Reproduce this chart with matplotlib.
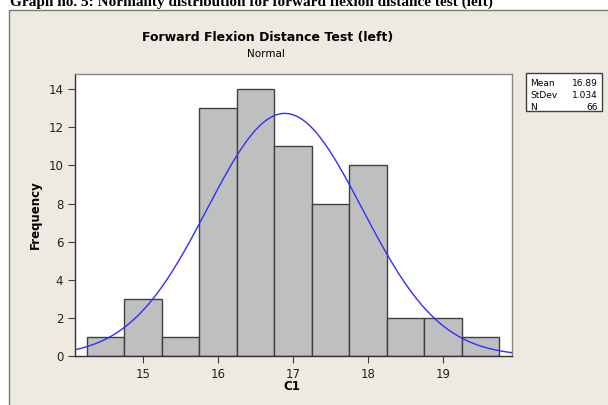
import numpy as np
import matplotlib
matplotlib.use("Agg")
import matplotlib.pyplot as plt
from matplotlib.patches import Rectangle

# histogram data (bin centres, width 0.5)
bin_centers = [14.5, 15.0, 15.5, 16.0, 16.5, 17.0, 17.5, 18.0, 18.5, 19.0, 19.5]
counts = [1, 3, 1, 13, 14, 11, 8, 10, 2, 2, 1]
bin_width = 0.5

# fitted normal from the stats box
mean = 16.89
stdev = 1.034
n = 66

xticks = [15, 16, 17, 18, 19]
yticks = [0, 2, 4, 6, 8, 10, 12, 14]

W, H = 608, 405
fig = plt.figure(figsize=(W / 100, H / 100), dpi=100)
fig.patch.set_facecolor("white")

# beige panel (runs off the right and bottom edges)
panel = Rectangle((9 / W, -0.1), 1.0, (H - 10) / H + 0.1, transform=fig.transFigure,
                  facecolor="#EEEAE1", edgecolor="#7a7a7a", linewidth=1.0, zorder=-10)
fig.patches.append(panel)

# caption cut off at the top of the image
fig.text(10 / W, 1 - 6 / H, "Graph no. 5: Normality distribution for forward flexion distance test (left)",
         family="Liberation Serif", fontweight="bold", fontsize=11, va="baseline", ha="left")

# plot area
left, right, top, bottom = 75, 512, 74, 356
ax = fig.add_axes([left / W, 1 - bottom / H, (right - left) / W, (bottom - top) / H])
ax.set_facecolor("white")

ax.bar(bin_centers, counts, width=bin_width, color="#BFBFBF", edgecolor="#404040",
       linewidth=1.0, zorder=2)

xs = np.linspace(14.093, 19.92, 300)
ys = n * bin_width / (stdev * np.sqrt(2 * np.pi)) * np.exp(-0.5 * ((xs - mean) / stdev) ** 2)
ax.plot(xs, ys, color="#3030FF", linewidth=1.0, zorder=3)

ax.set_xlim(14.093, 19.92)
ax.set_ylim(0, 14.8)
ax.set_xticks(xticks)
ax.set_yticks(yticks)
ax.tick_params(direction="out", length=5, width=0.8, color="#404040", labelsize=8.5,
               labelcolor="#222222")
for s in ["top", "right"]:
    ax.spines[s].set_color("#888888")
for s in ["left", "bottom"]:
    ax.spines[s].set_color("#303030")
for s in ax.spines.values():
    s.set_linewidth(1.0)

fig.text(35 / W, 1 - 215 / H, "Frequency", rotation=90, fontweight="bold", fontsize=8.5,
         ha="center", va="center")
fig.text(292 / W, 1 - 387 / H, "C1", fontweight="bold", fontsize=8.5, ha="center", va="center")

fig.text(268 / W, 1 - 38 / H, "Forward Flexion Distance Test (left)", fontweight="bold",
         fontsize=9, ha="center", va="center")
fig.text(266 / W, 1 - 54 / H, "Normal", fontsize=7.5, ha="center", va="center")

# stats box
box = Rectangle((526 / W, 1 - 111 / H), 76 / W, 38 / H, transform=fig.transFigure,
                facecolor="white", edgecolor="#404040", linewidth=1.0, zorder=1)
fig.patches.append(box)
labels = ["Mean", "StDev", "N"]
vals = ["16.89", "1.034", "66"]
for i, (lab, v) in enumerate(zip(labels, vals)):
    y = 1 - (83 + i * 12) / H
    fig.text(530 / W, y, lab, fontsize=6.5, ha="left", va="center")
    fig.text(598 / W, y, v, fontsize=6.5, ha="right", va="center")

fig.savefig("out.png", dpi=100)
